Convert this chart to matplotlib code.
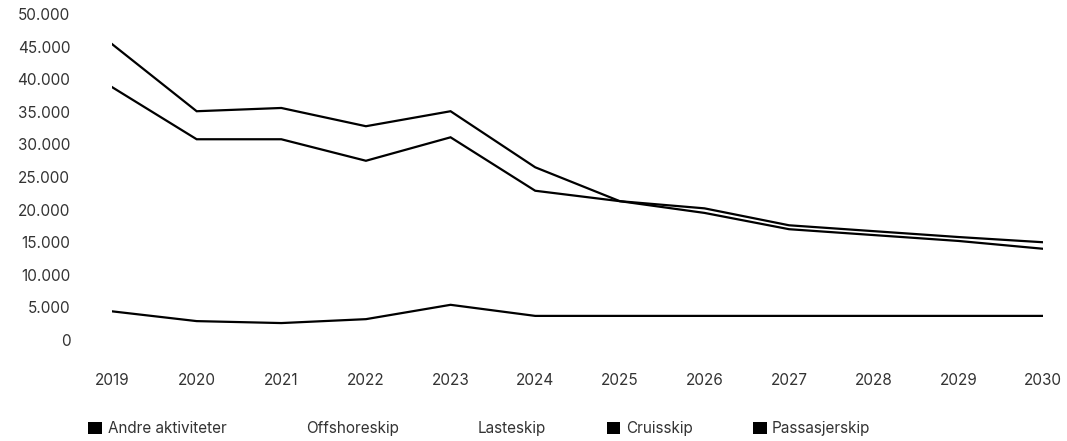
import matplotlib

matplotlib.use("Agg")
import matplotlib.pyplot as plt
from matplotlib.patches import Patch
from matplotlib.ticker import FuncFormatter

years = list(range(2019, 2031))

# three visible series (black), two hidden ones drawn white like the source
andre = [4400, 2900, 2600, 3200, 5400, 3700, 3700, 3700, 3700, 3700, 3700, 3700]
cruise = [38800, 30800, 30800, 27500, 31100, 22900, 21300, 19500, 17000, 16100, 15200, 14000]
passasjer = [45400, 35100, 35600, 32800, 35100, 26500, 21300, 20200, 17600, 16700, 15800, 15000]
offshore = [0] * len(years)
laste = [0] * len(years)

labels = ["Andre aktiviteter", "Offshoreskip", "Lasteskip", "Cruisskip", "Passasjerskip"]
colors = ["#000000", "#ffffff", "#ffffff", "#000000", "#000000"]

plt.rcParams["font.family"] = ["Inter", "DejaVu Sans"]
text_col = "#333333"

fig = plt.figure(figsize=(10.67, 4.41), dpi=100)
ax = fig.add_axes([0.105, 0.229, 0.8725, 0.739])

for series, col in zip([andre, offshore, laste, cruise, passasjer], colors):
    if col == "#ffffff":
        continue
    ax.plot(years, series, color=col, linewidth=1.6, solid_joinstyle="miter")

ax.set_xlim(2019, 2030)
ax.set_ylim(0, 50000)
ax.set_xticks(years)
ax.set_yticks(range(0, 50001, 5000))
ax.yaxis.set_major_formatter(
    FuncFormatter(lambda v, p: f"{int(v):,}".replace(",", "."))
)
for s in ax.spines.values():
    s.set_visible(False)
ax.tick_params(axis="both", length=0, labelsize=11, labelcolor=text_col)
ax.tick_params(axis="y", pad=30)
ax.tick_params(axis="x", pad=24)

handles = [Patch(facecolor=c, edgecolor="none") for c in colors]
fig.legend(
    handles, labels, loc="center left", bbox_to_anchor=(0.07, 0.028),
    ncol=5, frameon=False, fontsize=11, labelcolor=text_col,
    handlelength=0.9, handleheight=0.9, handletextpad=0.35, columnspacing=3.95,
)

fig.savefig("out.png", dpi=100)
